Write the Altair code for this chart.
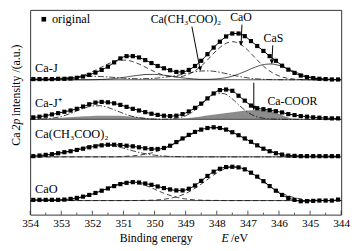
import altair as alt
import pandas as pd

FONT = "Liberation Serif"

E_pts = [round(353.9 - 0.2 * i, 1) for i in range(50)]
E_cmp = [round(354.0 - 0.25 * i, 2) for i in range(41)]

spectra = ["Ca-J", "Ca-J+", "Ca(CH3COO)2", "CaO"]
offsets = [137.0, 96.8, 58.7, 14.3]

orig_caj = [0.7, 0.7, 0.7, 0.7, 1.0, 1.0, 1.3, 2.0, 3.3, 5.0,
            7.3, 10.0, 13.3, 17.7, 21.7, 24.0, 24.0, 22.7, 20.0, 17.0,
            14.0, 11.7, 9.7, 8.0, 8.0, 10.0, 14.0, 19.3, 26.0, 32.7,
            38.7, 44.0, 47.0, 47.0, 44.3, 39.3, 34.3, 29.3, 24.0, 19.3,
            14.3, 10.3, 7.0, 4.3, 2.7, 1.7, 1.0, 0.7, 0.3, 0.3]
orig_cajp = [2.0, 2.7, 3.7, 5.0, 6.3, 7.7, 9.0, 10.7, 13.0, 15.3,
             17.0, 17.7, 17.3, 16.3, 14.7, 12.7, 10.7, 9.0, 7.3, 5.7,
             4.5, 3.7, 3.3, 3.7, 5.3, 8.0, 11.7, 16.0, 21.3, 26.3,
             29.7, 30.3, 29.0, 24.0, 19.0, 14.0, 11.3, 10.3, 9.3, 8.3,
             7.0, 5.3, 4.3, 3.3, 2.7, 2.0, 1.7, 1.3, 1.0, 1.0]
orig_acet = [0.7, 1.3, 2.0, 2.7, 3.7, 4.7, 5.7, 7.0, 8.3, 9.7,
             10.7, 11.7, 12.3, 12.3, 12.0, 11.3, 10.7, 9.7, 8.7, 8.0,
             8.0, 9.0, 11.3, 15.0, 18.7, 22.3, 25.3, 27.7, 29.3, 30.0,
             29.3, 27.7, 25.0, 22.0, 18.7, 15.3, 11.7, 8.3, 5.7, 3.7,
             2.3, 1.3, 1.0, 0.7, 0.7, 0.7, 0.7, 0.7, 0.7, 0.7]
orig_cao = [0.7, 0.7, 0.7, 0.7, 0.7, 1.0, 1.7, 2.7, 4.0, 5.7,
            7.7, 10.0, 12.3, 14.7, 16.7, 18.0, 18.7, 18.3, 17.3, 16.0,
            14.3, 12.7, 11.3, 10.3, 10.3, 12.0, 15.3, 20.0, 25.0, 29.3,
            32.3, 34.0, 34.3, 33.7, 31.7, 28.3, 24.3, 19.7, 14.7, 10.0,
            5.7, 2.7, 0.7, -0.7, -0.7, -0.3, 0.0, 0.0, 0.0, 1.0]

caj_cao = [0, 0, 0, 0.2, 0.6, 1.3, 2.7, 5.0, 8.2, 12.1,
           16.0, 18.9, 20.0, 18.9, 16.0, 12.1, 8.2, 5.1, 3.4, 3.0,
           4.5, 8.1, 13.9, 21.8, 30.0, 36.3, 38.7, 36.3, 30.0, 21.8,
           13.9, 7.9, 3.9, 1.7, 0.7, 0.2, 0, 0, 0, 0, 0]
caj_cas = [0, 0, 0, 0, 0, 0, 0, 0, 0.1, 0.3,
           0.7, 1.4, 2.4, 3.6, 4.6, 5.4, 5.4, 4.8, 3.8, 2.6,
           1.6, 0.9, 0.4, 0.5, 0.9, 1.9, 3.7, 6.4, 9.7, 13.0,
           15.4, 16.0, 14.6, 11.7, 8.3, 5.2, 2.8, 1.4, 0.6, 0.3, 0.1]
caj_acet = [0.2, 0.3, 0.6, 1.0, 1.6, 2.3, 2.9, 3.3, 3.5, 3.3,
            2.9, 2.3, 1.6, 1.2, 1.0, 1.2, 1.5, 2.3, 3.3, 4.6,
            6.2, 7.8, 8.9, 9.0, 8.2, 6.6, 4.8, 3.2, 1.9, 1.0,
            0.5, 0.2, 0.1, 0, 0, 0, 0, 0, 0, 0, 0]
cajp_coor = [0, 0.3, 0.7, 1.2, 1.7, 2.2, 2.7, 3.1, 3.4, 3.6,
             3.7, 3.6, 3.3, 2.8, 2.1, 1.4, 0.8, 0.4, 0.3, 0.6,
             1.2, 2.0, 3.0, 4.1, 5.2, 6.3, 7.3, 8.3, 9.1, 9.6,
             9.5, 8.3, 5.8, 2.5, 0.6, 0.1, 0, 0, 0, 0, 0]
cajp_main = [0.1, 0.2, 0.6, 1.4, 2.9, 5.4, 8.5, 11.6, 13.6, 13.8,
             12.1, 9.1, 6.0, 3.3, 1.6, 0.7, 0.2, 0.2, 0.4, 1.3,
             3.6, 8.2, 14.9, 22.1, 26.6, 26.0, 20.7, 13.4, 7.1, 3.0,
             1.1, 0.3, 0.1, 0, 0, 0, 0, 0, 0, 0, 0]
acet_p1 = [0.3, 0.7, 1.3, 2.3, 3.8, 5.7, 7.9, 10.0, 11.6, 12.3,
           12.0, 10.7, 8.8, 6.6, 4.5, 2.9, 1.7, 0.9, 0.4, 0.2,
           0.1, 0, 0, 0, 0, 0, 0, 0, 0, 0,
           0, 0, 0, 0, 0, 0, 0, 0, 0, 0, 0]
acet_p2 = [0, 0, 0, 0, 0, 0, 0, 0, 0, 0,
           0, 0, 0.4, 0.9, 1.7, 2.9, 4.8, 7.6, 11.1, 15.2,
           19.7, 23.9, 27.2, 29.2, 29.4, 27.8, 24.6, 20.6, 16.1, 11.9,
           8.2, 5.3, 3.3, 1.9, 1.0, 0.5, 0.2, 0.1, 0, 0, 0]
cao_p1 = [0, 0, 0.1, 0.2, 0.5, 1.1, 2.1, 3.9, 6.3, 9.4,
          12.8, 15.9, 18.0, 18.5, 17.3, 14.8, 11.5, 8.1, 5.2, 3.1,
          1.6, 0.8, 0.4, 0.2, 0.1, 0, 0, 0, 0, 0,
          0, 0, 0, 0, 0, 0, 0, 0, 0, 0, 0]
cao_p2 = [0, 0, 0, 0, 0, 0, 0, 0, 0, 0,
          0, 0, 0, 0, 0.1, 0.2, 0.5, 1.1, 2.3, 4.2,
          7.2, 11.4, 16.7, 22.5, 28.0, 32.1, 33.9, 33.1, 29.8, 24.8,
          19.0, 13.4, 8.8, 5.3, 2.9, 1.5, 0.7, 0.3, 0.1, 0, 0]

major_ticks = [344, 345, 346, 347, 348, 349, 350, 351, 352, 353, 354]
minor_ticks = [344.5, 345.5, 346.5, 347.5, 348.5, 349.5, 350.5, 351.5, 352.5, 353.5]

arrow_id = ["acet", "cao", "cas", "coor"]
arrow_tail_E = [348.80, 347.19, 346.20, 346.81]
arrow_tail_I = [191, 193, 172, 134]
arrow_tip_E = [348.53, 347.22, 346.23, 346.81]
arrow_tip_I = [146.5, 172, 153.5, 106.5]
arrow_angle = [349, 0, 0, 0]

off = dict(zip(spectra, offsets))
pts = pd.DataFrame([
    {"E": e, "I": o + v, "s": s}
    for s, o, vals in zip(spectra, offsets, [orig_caj, orig_cajp, orig_acet, orig_cao])
    for e, v in zip(E_pts, vals)
])

comp_defs = [
    ("Ca-J", "CaO", "dash", caj_cao),
    ("Ca-J", "CaS", "solid", caj_cas),
    ("Ca-J", "acet", "dashdot", caj_acet),
    ("Ca-J+", "main", "dashdot", cajp_main),
    ("Ca(CH3COO)2", "p1", "dashdot", acet_p1),
    ("Ca(CH3COO)2", "p2", "dash", acet_p2),
    ("CaO", "p1", "dash", cao_p1),
    ("CaO", "p2", "dash", cao_p2),
]
comp = pd.DataFrame([
    {"E": e, "I": off[s] + v, "c": s + "/" + n, "st": st}
    for s, n, st, vals in comp_defs
    for e, v in zip(E_cmp, vals)
])
grey = pd.DataFrame({"E": E_cmp,
                     "top": [off["Ca-J+"] + v for v in cajp_coor],
                     "bot": [off["Ca-J+"]] * len(E_cmp)})
bases = pd.DataFrame({"a": [354.0] * 4, "b": [344.0] * 4, "I": offsets})

arr_lines = pd.DataFrame(
    [{"id": i, "k": 0, "E": e, "I": y} for i, e, y in zip(arrow_id, arrow_tail_E, arrow_tail_I)] +
    [{"id": i, "k": 1, "E": e, "I": y} for i, e, y in zip(arrow_id, arrow_tip_E, arrow_tip_I)])
arr_heads = pd.DataFrame({"E": arrow_tip_E, "I": arrow_tip_I, "ang": arrow_angle})

xsc = alt.Scale(domain=[344, 354], reverse=True, nice=False, zero=False)
ysc = alt.Scale(domain=[0, 208], nice=False, zero=False)
xax = alt.Axis(values=major_ticks, format="d", ticks=False, domain=False, grid=False,
               title=None, labelFont=FONT, labelFontSize=11.5, labelColor="black",
               labelPadding=3, labelFlush=False)


def X(f):
    return alt.X(f, type="quantitative", scale=xsc, axis=xax)


def Y(f):
    return alt.Y(f, type="quantitative", scale=ysc, axis=None)


layers = []
layers.append(alt.Chart(grey).mark_area(color="#8c8c8c", interpolate="monotone").encode(
    x=X("E"), y=Y("top"), y2="bot"))
layers.append(alt.Chart(bases).mark_rule(color="#222", strokeWidth=0.8).encode(
    x=X("a"), x2="b", y=Y("I")))
dashes = {"dash": [5, 3], "dashdot": [6, 2, 1.5, 2], "solid": [1, 0]}
for st, d in dashes.items():
    layers.append(alt.Chart(comp[comp.st == st]).mark_line(
        color="#111", strokeWidth=0.8, strokeDash=d, interpolate="monotone").encode(
        x=X("E"), y=Y("I"), detail="c:N"))
layers.append(alt.Chart(pts).mark_line(color="black", strokeWidth=1.0, interpolate="monotone").encode(
    x=X("E"), y=Y("I"), detail="s:N"))
layers.append(alt.Chart(pts).mark_square(size=18, color="black", opacity=1).encode(
    x=X("E"), y=Y("I")))

layers.append(alt.Chart(pd.DataFrame({"t": major_ticks})).mark_rule(color="#222", strokeWidth=0.8).encode(
    x=X("t"), y=alt.value(208), y2=alt.value(204)))
layers.append(alt.Chart(pd.DataFrame({"t": minor_ticks})).mark_rule(color="#222", strokeWidth=0.8).encode(
    x=X("t"), y=alt.value(208), y2=alt.value(206)))

layers.append(alt.Chart(pd.DataFrame({"E": [353.56], "I": [198.5]})).mark_square(
    size=22, color="black", opacity=1).encode(x=X("E"), y=Y("I")))

labels = pd.DataFrame({
    "E": [353.30, 353.84, 353.84, 353.84, 353.84],
    "I": [199, 149, 113, 82, 26],
    "t": ["original", "Ca-J", "Ca-J\u207a", "Ca(CH\u2083COO)\u2082", "CaO"],
})
layers.append(alt.Chart(labels).mark_text(font=FONT, fontSize=12.5, align="left", baseline="middle",
                                           color="black").encode(x=X("E"), y=Y("I"), text="t:N"))

ann = pd.DataFrame({
    "E": [348.99, 347.22, 346.18],
    "I": [199, 201, 179],
    "t": ["Ca(CH\u2083COO)\u2082", "CaO", "CaS"],
})
layers.append(alt.Chart(ann).mark_text(font=FONT, fontSize=12, align="center", baseline="middle",
                                        color="black").encode(x=X("E"), y=Y("I"), text="t:N"))
layers.append(alt.Chart(pd.DataFrame({"E": [346.37], "I": [115], "t": ["Ca-COOR"]})).mark_text(
    font=FONT, fontSize=12, align="left", baseline="middle", color="black").encode(
    x=X("E"), y=Y("I"), text="t:N"))

layers.append(alt.Chart(arr_lines).mark_line(color="black", strokeWidth=1.0).encode(
    x=X("E"), y=Y("I"), detail="id:N", order="k:Q"))
layers.append(alt.Chart(arr_heads).mark_point(shape="triangle-down", filled=True, size=22,
                                               color="black", opacity=1, yOffset=-2).encode(
    x=X("E"), y=Y("I"), angle=alt.Angle("ang:Q", scale=None)))


def ptext(t, x, y, angle=0, style="normal", size=12):
    return alt.Chart(pd.DataFrame({"t": [t]})).mark_text(
        font=FONT, fontSize=size, fontStyle=style, align="left", baseline="middle",
        angle=angle, color="black").encode(x=alt.value(x), y=alt.value(y), text="t:N")


layers.append(ptext("Binding energy", 91, 232))
layers.append(ptext("E", 194.5, 232, style="italic"))
layers.append(ptext("/eV", 204, 232))
layers.append(ptext("Ca", -14.5, 138, angle=270))
layers.append(ptext("2p", -14.5, 122.5, angle=270, style="italic"))
layers.append(ptext("intensity /(a.u.)", -14.5, 108, angle=270))

chart = alt.layer(*layers).properties(
    width=316, height=208,
    autosize=alt.AutoSizeParams(type="none"),
    padding={"left": 22.5, "top": 0, "right": 12, "bottom": 33},
).configure_view(stroke="#333", strokeWidth=1)

chart.save("out.html", embed_options={"renderer": "svg", "actions": False})
